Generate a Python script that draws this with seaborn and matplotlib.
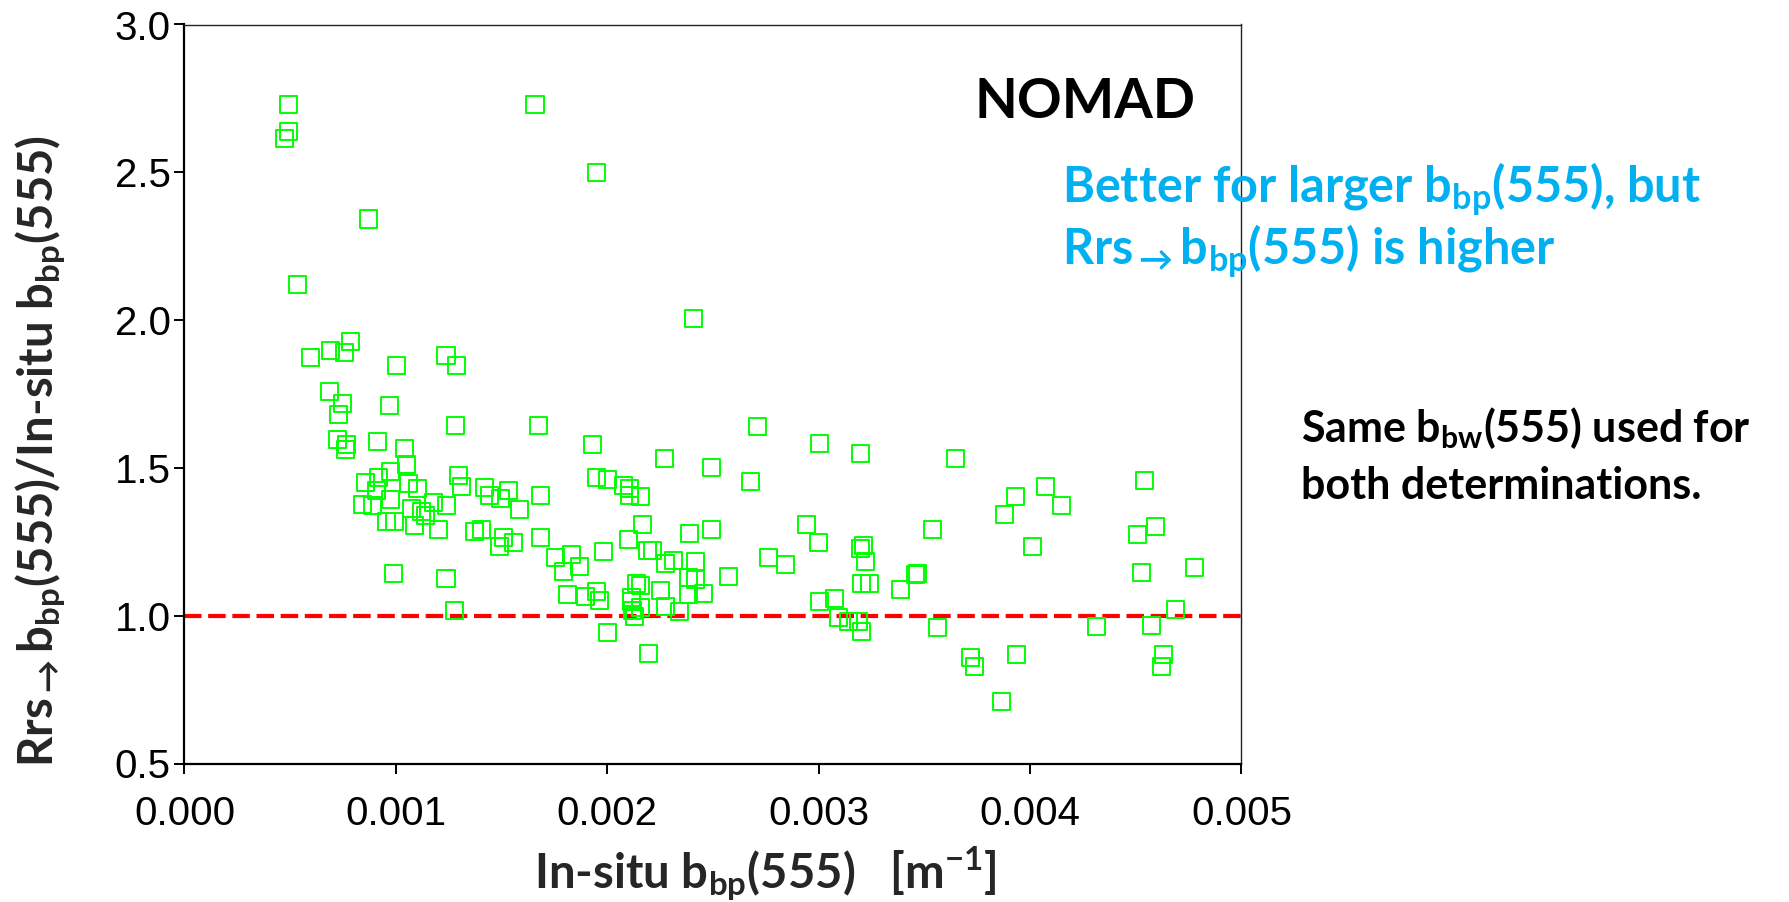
import matplotlib
matplotlib.use("Agg")
import matplotlib.pyplot as plt
import seaborn as sns
import pandas as pd
from matplotlib.ticker import FixedLocator, FormatStrFormatter

# ---- data ----
insitu_bbp = [
    0.000494, 0.000494, 0.000472, 0.001658, 0.000869, 0.000535, 0.000594, 0.000690,
    0.000783, 0.000758, 0.001237, 0.001289, 0.001005, 0.001950, 0.002410,
    0.000687, 0.000747, 0.000728, 0.000972, 0.001281, 0.001674, 0.000725, 0.000767,
    0.000761, 0.000911, 0.001042, 0.001051, 0.000974, 0.000918, 0.000855, 0.000909,
    0.001060, 0.001100, 0.001294, 0.001311, 0.001417, 0.001445, 0.001497, 0.001532,
    0.001584, 0.001682, 0.000843, 0.000888, 0.000974, 0.001073, 0.001122, 0.001138,
    0.001177, 0.001240, 0.000955, 0.000994, 0.001087, 0.001201, 0.001371, 0.001407,
    0.001508, 0.001488, 0.001557, 0.001685, 0.000988, 0.001237, 0.001276,
    0.001931, 0.002270, 0.002494, 0.002711, 0.003005, 0.003197, 0.002677, 0.001951,
    0.002003, 0.002078, 0.002107, 0.002107, 0.002155, 0.002166, 0.002099, 0.002390,
    0.002491, 0.002940, 0.003000, 0.001753, 0.001832, 0.001792, 0.001868, 0.001981,
    0.002191, 0.002215, 0.002274, 0.002311, 0.002416, 0.002385, 0.002418, 0.002574,
    0.002763, 0.002841, 0.003197, 0.003210, 0.003222, 0.003202, 0.003241, 0.001813,
    0.001899, 0.001951, 0.001961, 0.002136, 0.002156, 0.002115, 0.002115, 0.002155,
    0.002120, 0.002128, 0.002253, 0.002274, 0.002343, 0.002385, 0.002453, 0.002002,
    0.002197, 0.003006, 0.003077, 0.003096, 0.003143, 0.003187, 0.003203,
    0.003646, 0.003932, 0.004075, 0.004148, 0.003880, 0.004539, 0.004594, 0.004507,
    0.003536, 0.004010, 0.004529, 0.004777, 0.003468, 0.003459, 0.003385, 0.004687,
    0.003564, 0.004316, 0.004572, 0.003716, 0.003735, 0.003935, 0.003866, 0.004632,
    0.004623,
]
ratio = [
    2.729, 2.637, 2.614, 2.730, 2.342, 2.119, 1.873, 1.898,
    1.927, 1.890, 1.880, 1.846, 1.845, 2.498, 2.004,
    1.760, 1.717, 1.681, 1.710, 1.645, 1.645, 1.595, 1.579,
    1.561, 1.589, 1.564, 1.511, 1.488, 1.467, 1.450, 1.425,
    1.448, 1.430, 1.474, 1.438, 1.433, 1.405, 1.397, 1.422,
    1.358, 1.408, 1.376, 1.374, 1.392, 1.362, 1.354, 1.338,
    1.382, 1.372, 1.320, 1.320, 1.306, 1.292, 1.286, 1.293,
    1.266, 1.235, 1.246, 1.263, 1.142, 1.125, 1.016,
    1.579, 1.532, 1.501, 1.639, 1.582, 1.548, 1.454, 1.466,
    1.460, 1.441, 1.431, 1.405, 1.402, 1.307, 1.259, 1.279,
    1.293, 1.307, 1.249, 1.198, 1.207, 1.149, 1.167, 1.216,
    1.222, 1.219, 1.178, 1.188, 1.185, 1.130, 1.124, 1.134,
    1.196, 1.172, 1.226, 1.239, 1.185, 1.110, 1.108, 1.071,
    1.064, 1.081, 1.053, 1.109, 1.101, 1.063, 1.047, 1.029,
    1.016, 0.998, 1.085, 1.031, 1.013, 1.072, 1.074, 0.942,
    0.871, 1.049, 1.057, 0.995, 0.981, 0.981, 0.947,
    1.532, 1.402, 1.436, 1.372, 1.342, 1.457, 1.301, 1.275,
    1.292, 1.233, 1.146, 1.162, 1.144, 1.140, 1.089, 1.021,
    0.961, 0.964, 0.968, 0.857, 0.828, 0.868, 0.709, 0.870,
    0.828,
]
x_ticks = [0.000, 0.001, 0.002, 0.003, 0.004, 0.005]
y_ticks = [0.5, 1.0, 1.5, 2.0, 2.5, 3.0]
reference_ratio = 1.0

title_text = "NOMAD"
xlabel_text = r"In-situ b$_{\mathrm{bp}}$(555)   [m$^{\mathrm{-1}}$]"
ylabel_text = r"Rrs$_{\rightarrow}$b$_{\mathrm{bp}}$(555)/In-situ b$_{\mathrm{bp}}$(555)"
note_blue = [r"Better for larger b$_{\mathrm{bp}}$(555), but",
             r"Rrs$_{\rightarrow}$b$_{\mathrm{bp}}$(555) is higher"]
note_black = [r"Same b$_{\mathrm{bw}}$(555) used for",
              "both determinations."]

df = pd.DataFrame({"insitu_bbp": insitu_bbp, "ratio": ratio})

# ---- style ----
sns.set_style("ticks")
plt.rcParams["font.family"] = ["Liberation Sans", "DejaVu Sans"]
plt.rcParams["mathtext.fontset"] = "custom"
plt.rcParams["mathtext.rm"] = "Lato:bold"
plt.rcParams["mathtext.it"] = "Lato:bold"
plt.rcParams["mathtext.bf"] = "Lato:bold"

W, H = 1790, 902
fig = plt.figure(figsize=(W / 100, H / 100), dpi=100)
ax = fig.add_axes([184.5 / W, 1 - 763.5 / H, (1241.5 - 184.5) / W, (763.5 - 24.5) / H])

sns.scatterplot(data=df, x="insitu_bbp", y="ratio", ax=ax, marker="s", s=150,
                color="#00FF00", edgecolor="#00FF00", linewidth=1.4, legend=False,
                zorder=3)
for c in ax.collections:
    c.set_facecolor("none")
    c.set_edgecolor("#00FF00")

ax.axhline(reference_ratio, color="#FF0000", lw=3.0, dashes=(4.2, 1.6), zorder=2)

ax.set_xlim(x_ticks[0], x_ticks[-1])
ax.set_ylim(y_ticks[0], y_ticks[-1])
ax.xaxis.set_major_locator(FixedLocator(x_ticks))
ax.yaxis.set_major_locator(FixedLocator(y_ticks))
ax.xaxis.set_major_formatter(FormatStrFormatter("%.3f"))
ax.yaxis.set_major_formatter(FormatStrFormatter("%.1f"))
ax.tick_params(axis="both", direction="out", length=7, width=1.4, color="black",
               labelsize=29, labelcolor="black")
ax.tick_params(axis="x", pad=16)
ax.tick_params(axis="y", pad=3)

for side in ["left", "bottom"]:
    ax.spines[side].set_linewidth(1.6)
    ax.spines[side].set_color("black")
for side in ["top", "right"]:
    ax.spines[side].set_visible(True)
    ax.spines[side].set_linewidth(1.0)
    ax.spines[side].set_color("#222222")

ax.set_xlabel(xlabel_text, fontfamily="Lato", fontweight="bold", fontsize=34)
ax.set_ylabel(ylabel_text, fontfamily="Lato", fontweight="bold", fontsize=34)
ax.xaxis.set_label_coords((765 - 184.5) / (1241.5 - 184.5), -(873 - 763.5) / (763.5 - 24.5))
ax.yaxis.set_label_coords(-(184.5 - 40) / (1241.5 - 184.5), (763.5 - 451) / (763.5 - 24.5))
ax.xaxis.label.set_va("center")
ax.yaxis.label.set_va("center")

fig.text(1085 / W, 1 - 118 / H, title_text, fontfamily="Lato", fontweight="bold",
         fontsize=40, ha="center", va="baseline", color="black")
fig.text(1062 / W, 1 - 203 / H, note_blue[0], fontfamily="Lato", fontweight="bold",
         fontsize=35, ha="left", va="baseline", color="#00B0F0")
fig.text(1062 / W, 1 - 265 / H, note_blue[1], fontfamily="Lato", fontweight="bold",
         fontsize=35, ha="left", va="baseline", color="#00B0F0")
fig.text(1301 / W, 1 - 442 / H, note_black[0], fontfamily="Lato", fontweight="bold",
         fontsize=31, ha="left", va="baseline", color="black")
fig.text(1301 / W, 1 - 499 / H, note_black[1], fontfamily="Lato", fontweight="bold",
         fontsize=31, ha="left", va="baseline", color="black")

fig.savefig("out.png", dpi=100, facecolor="white")
